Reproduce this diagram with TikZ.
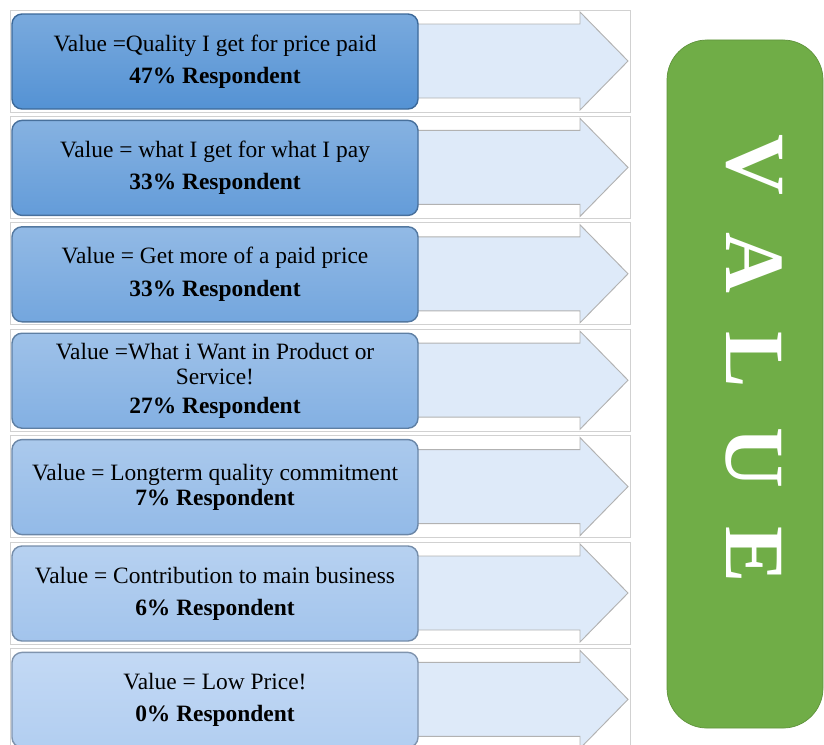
\documentclass[tikz,border=0pt]{standalone}
\usepackage{fontspec}
\setmainfont{Liberation Serif}
\usetikzlibrary{shapes}
\definecolor{bluetop}{RGB}{84,146,212}
\definecolor{bluelow}{RGB}{178,206,241}
\definecolor{arrowfill}{RGB}{222,234,249}
\definecolor{valgreen}{RGB}{112,173,71}
\tikzstyle{frm}=[draw=black!18,line width=.6pt]
\tikzstyle{arr}=[fill=arrowfill,draw=black!30,line width=.8pt]
\tikzstyle{box}=[rectangle,rounded corners=.3cm,minimum width=12.18cm,minimum height=2.85cm,inner sep=0pt,align=center,font=\fontsize{20}{21.5}\selectfont,line width=1.2pt]
\tikzstyle{vbox}=[rectangle,rounded corners=1.2cm,minimum width=4.68cm,minimum height=20.64cm,fill=valgreen,draw=valgreen!85!black,line width=.6pt]
\tikzstyle{letter}=[text=white,rotate=-90,font=\fontsize{72}{72}\selectfont\bfseries]

\begin{document}
\begin{tikzpicture}[x=.03cm,y=-.03cm]
\useasboundingbox (0,0) rectangle (824,744);
\foreach \txt/\pct/\gap [count=\i] in {%
  {Value =Quality I get  for price paid}/47/6pt,
  {Value = what I get for what I pay}/33/6pt,
  {Value = Get more of a paid price}/33/6pt,
  {Value =What i Want  in Product or\\ Service!}/27/3pt,
  {Value = Longterm  quality commitment}/7/0pt,
  {Value = Contribution to main business}/6/6pt,
  {Value = Low Price!}/0/6pt}
{
  \pgfmathsetmacro\t{14+106.4*(\i-1)}
  \pgfmathsetmacro\p{100*(\i-1)/6}
  \colorlet{bc}{bluelow!\p!bluetop}
  \draw[frm] (10,\t-4) rectangle (630,\t+98);
  \draw[arr] (415,\t+10) -- (580,\t+10) -- (580,\t-2) -- (628,\t+47) -- (580,\t+96) -- (580,\t+84) -- (415,\t+84) -- cycle;
  \node[box,top color=bc!78!white,bottom color=bc,draw=bc!72!black] (b\i) at (215,\t+47.5)
    {\txt\\[\gap]\textbf{\pct\% Respondent}};
}
\node[vbox] (value) at (745,384) {};
\foreach \l [count=\i] in {V,A,L,U,E}
  \node[letter] (l\i) at (754,165+97.5*\i-97.5) {\l};
\end{tikzpicture}
\end{document}
